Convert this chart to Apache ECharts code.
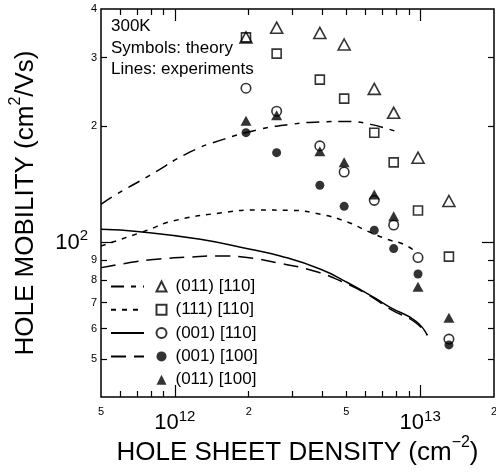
<!DOCTYPE html>
<html>
<head>
<meta charset="utf-8">
<script src="https://cdn.jsdelivr.net/npm/echarts@6/dist/echarts.min.js"></script>
<style>
  html, body { margin: 0; padding: 0; background: #fff; }
  #chart { width: 496px; height: 472px; }
</style>
</head>
<body>
<div id="chart"></div>
<script>
// axis ranges
const xMin = 5e11, xMax = 2e13;
const yMin = 40, yMax = 400;

// tick positions / labels
const xMinorTicks = [6e11, 7e11, 8e11, 9e11, 2e12, 3e12, 4e12, 5e12, 6e12, 7e12, 8e12, 9e12];
const xMajorTicks = [1e12, 1e13];
const xSmallLabels = [5e11, 2e12, 5e12, 2e13];
const yMinorTicks = [50, 60, 70, 80, 90, 200, 300];
const yMajorTicks = [100];
const ySmallLabels = [50, 60, 70, 80, 90, 200, 300, 400];

// theory (symbols)
const densities = [1.95e12, 2.6e12, 3.9e12, 4.9e12, 6.5e12, 7.8e12, 9.8e12, 1.31e13];
const t011_110 = [338, 358, 347, 324, 249, 216, 165.5, 128];
const t111_110 = [338, 307, 263, 235, 192, 161, 121, 92];
const t001_110 = [250, 218, 177.5, 152, 128.5, 111, 91.5, 56.4];
const t001_100 = [192, 170.5, 140.5, 124, 107.6, 96.5, 83, 54.5];
const t011_100 = [206, 213, 172, 161, 133, 117, 77, 64];

// experiments (lines)
const e011_110_x = [5e11, 5.6e11, 7.9e11, 1.15e12, 1.575e12, 2.23e12, 2.96e12, 3.93e12, 5.06e12, 6.28e12, 7.95e12];
const e011_110_y = [125.5, 131.6, 149, 171, 184.5, 196, 201.7, 204.7, 205.3, 201.7, 193.5];
const e111_110_x = [5e11, 7.56e11, 9.84e11, 1.575e12, 2.16e12, 2.96e12, 3.93e12, 5.05e12, 6.09e12, 7.35e12, 8.57e12, 9.42e12];
const e111_110_y = [98, 107.1, 113.7, 119.5, 121.3, 121.1, 118.3, 113, 107.1, 102, 99, 95.5];
const e001_110_x = [5e11, 7.2e11, 1.27e12, 2.03e12, 2.69e12, 3.93e12, 5.05e12, 6.48e12, 7.58e12, 9.59e12, 1.07e13];
const e001_110_y = [108.2, 106.7, 102, 96.1, 92.4, 85.4, 78.9, 72.2, 68, 62.8, 57.7];
const e001_100_x = [5e11, 6.57e11, 8.44e11, 1.155e12, 1.484e12, 1.97e12, 2.69e12, 3.69e12, 4.74e12, 6.09e12, 7.58e12, 9.59e12, 1.07e13];
const e001_100_y = [86.2, 88.8, 90.6, 91.8, 92.4, 91.5, 88.4, 84.5, 79.6, 73.6, 67.3, 62.2, 57.7];

const FONT = 'Arial, "Liberation Sans", Helvetica, sans-serif';
const zip = (xs, ys) => xs.map((x, i) => [x, ys[i]]);
const lg = Math.log10;
const mantissa = v => String(Math.round(Math.pow(10, v - Math.floor(v + 1e-9))));

const hollow = { color: 'transparent', borderColor: '#000', borderWidth: 1.6 };
const filled = { color: '#000' };

// decoration axis (ticks/labels) on log10 space
function decoAxis(pos, min, max, ticks, len, labels, labelOpt) {
    return {
        type: 'value', position: pos, min: lg(min), max: lg(max),
        splitLine: { show: false },
        axisLine: { show: false },
        axisTick: { show: true, inside: true, length: len, customValues: ticks.map(lg),
            lineStyle: { color: '#000', width: 1.2 } },
        axisLabel: labels ? Object.assign({ customValues: labels.map(lg) }, labelOpt) : { show: false }
    };
}

const smallLbl = { fontSize: 11, fontFamily: FONT, color: '#000', formatter: mantissa };
const bigLbl = {
    fontSize: 22, lineHeight: 28, fontFamily: FONT, color: '#000',
    formatter: v => '10{s|' + Math.round(v) + '}',
    rich: { s: { fontSize: 15, lineHeight: 15, verticalAlign: 'top', fontFamily: FONT, color: '#000' } }
};
const supRich = { sup: { fontSize: 16, lineHeight: 16, verticalAlign: 'top', fontFamily: FONT, color: '#000' } };

const chart = echarts.init(document.getElementById('chart'), null, { renderer: 'canvas' });

const lineNames = ['e (011) [110]', 'e (111) [110]', 'e (001) [110]', 'e (001) [100]'];
const symNames = ['(011) [110]', '(111) [110]', '(001) [110]', '(001) [100]', '(011) [100]'];

const legendText = { fontSize: 17, lineHeight: 17, fontFamily: FONT, color: '#000' };

function lineSeries(name, xs, ys, type) {
    return {
        name: name, type: 'line', smooth: true, symbol: 'none', data: zip(xs, ys),
        itemStyle: { color: '#000' },
        lineStyle: { color: '#000', width: 1.5, type: type }
    };
}

chart.setOption({
    animation: false,
    backgroundColor: '#fff',
    grid: {
        left: 101, right: 2, top: 9, bottom: 75,
        show: true, borderColor: '#000', borderWidth: 1.5, backgroundColor: 'transparent',
        containLabel: false, outerBoundsMode: 'none'
    },
    xAxis: [
        {
            type: 'log', logBase: 10, min: xMin, max: xMax,
            axisLine: { show: false }, axisTick: { show: false }, axisLabel: { show: false },
            splitLine: { show: false },
            name: 'HOLE SHEET DENSITY (cm{sup|\u22122})',
            nameLocation: 'middle', nameGap: 38,
            nameTextStyle: { fontSize: 26, lineHeight: 35, fontFamily: FONT, color: '#000', rich: supRich }
        },
        decoAxis('bottom', xMin, xMax, xMinorTicks, 6, xSmallLabels, Object.assign({ margin: 9 }, smallLbl)),
        decoAxis('bottom', xMin, xMax, xMajorTicks, 12, xMajorTicks, Object.assign({ margin: 12 }, bigLbl)),
        decoAxis('top', xMin, xMax, xMinorTicks, 6, null),
        decoAxis('top', xMin, xMax, xMajorTicks, 12, null)
    ],
    yAxis: [
        {
            type: 'log', logBase: 10, min: yMin, max: yMax,
            axisLine: { show: false }, axisTick: { show: false }, axisLabel: { show: false },
            splitLine: { show: false },
            name: 'HOLE MOBILITY (cm{sup|2}/Vs)',
            nameLocation: 'middle', nameGap: 58,
            nameTextStyle: { fontSize: 26, lineHeight: 35, fontFamily: FONT, color: '#000', rich: supRich }
        },
        decoAxis('left', yMin, yMax, yMinorTicks, 6, ySmallLabels, Object.assign({ margin: 4 }, smallLbl)),
        decoAxis('left', yMin, yMax, yMajorTicks, 12, yMajorTicks, Object.assign({ margin: 13 }, bigLbl)),
        decoAxis('right', yMin, yMax, yMinorTicks, 6, null),
        decoAxis('right', yMin, yMax, yMajorTicks, 12, null)
    ],
    legend: [
        {
            data: lineNames, orient: 'vertical', left: 110, top: 278, padding: 0,
            itemWidth: 33, itemHeight: 17, itemGap: 6.3, selectedMode: false,
            itemStyle: { opacity: 0 },
            formatter: () => ' ', textStyle: legendText
        },
        {
            data: symNames, orient: 'vertical', left: 155.5, top: 278, padding: 0,
            itemWidth: 10, itemHeight: 10, itemGap: 6.3, selectedMode: false,
            textStyle: Object.assign({ padding: [0, 0, 0, 4] }, legendText)
        }
    ],
    graphic: [{
        type: 'text', left: 111, top: 16,
        style: {
            text: '300K\nSymbols: theory\nLines: experiments',
            font: '17px ' + FONT, lineHeight: 21.5, fill: '#000'
        }
    }],
    series: [
        lineSeries(lineNames[0], e011_110_x, e011_110_y, [13, 7, 5, 7]),
        lineSeries(lineNames[1], e111_110_x, e111_110_y, [5, 6]),
        lineSeries(lineNames[2], e001_110_x, e001_110_y, 'solid'),
        lineSeries(lineNames[3], e001_100_x, e001_100_y, [15, 8]),
        { name: symNames[0], type: 'scatter', symbol: 'triangle', symbolSize: [12, 11],
          itemStyle: hollow, data: zip(densities, t011_110) },
        { name: symNames[1], type: 'scatter', symbol: 'rect', symbolSize: 9,
          itemStyle: hollow, data: zip(densities, t111_110) },
        { name: symNames[2], type: 'scatter', symbol: 'circle', symbolSize: 9.5,
          itemStyle: hollow, data: zip(densities, t001_110) },
        { name: symNames[3], type: 'scatter', symbol: 'circle', symbolSize: 9,
          itemStyle: filled, data: zip(densities, t001_100) },
        { name: symNames[4], type: 'scatter', symbol: 'triangle', symbolSize: [11, 10],
          itemStyle: filled, data: zip(densities, t011_100) }
    ]
});
</script>
</body>
</html>
